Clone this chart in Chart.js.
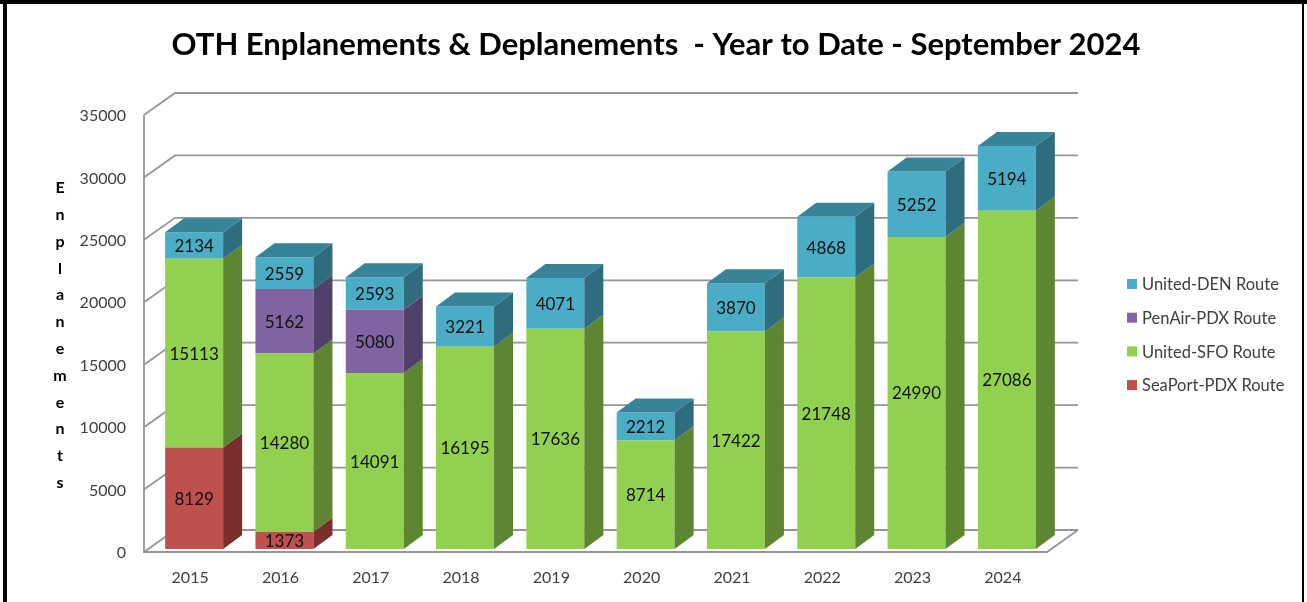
<!DOCTYPE html>
<html>
<head>
<meta charset="utf-8">
<title>OTH Enplanements &amp; Deplanements</title>
<script src="https://cdn.jsdelivr.net/npm/chart.js@4.4.1/dist/chart.umd.min.js"></script>
<style>
  html, body { margin: 0; padding: 0; background: #fff; }
  #wrap { width: 1307px; height: 602px; }
</style>
</head>
<body>
<div id="wrap"><canvas id="othChart" width="1307" height="602"></canvas></div>
<script>
// Chart data
const years = ['2015', '2016', '2017', '2018', '2019', '2020', '2021', '2022', '2023', '2024'];
const seaportPdx = [8129, 1373, null, null, null, null, null, null, null, null];
const unitedSfo = [15113, 14280, 14091, 16195, 17636, 8714, 17422, 21748, 24990, 27086];
const penairPdx = [null, 5162, 5080, null, null, null, null, null, null, null];
const unitedDen = [2134, 2559, 2593, 3221, 4071, 2212, 3870, 4868, 5252, 5194];
const yMax = 35000;
const yStep = 5000;

const chartTitle = 'OTH Enplanements & Deplanements  - Year to Date - September 2024';
const yAxisTitle = 'Enplanements';

// front / side / top colours per route
const routes = [
    { label: 'SeaPort-PDX Route', data: seaportPdx, front: '#C0504D', side: '#7A2F2E', top: '#96403D' },
    { label: 'United-SFO Route', data: unitedSfo, front: '#92D050', side: '#5E8532', top: '#74A63F' },
    { label: 'PenAir-PDX Route', data: penairPdx, front: '#8064A2', side: '#51406A', top: '#654F82' },
    { label: 'United-DEN Route', data: unitedDen, front: '#4BACC6', side: '#2F6D7E', top: '#37849A' }
];

const FONT = 'Lato';
const TEXT_GREY = '#404040';

// 3D look: bar depth, wall depth and where the front plane sits
const BAR_DX = 19, BAR_DY = -14;
const WALL_DX = 31, WALL_DY = -22;
const FRONT_DX = -5, FRONT_DY = 3;

const threeD = {
    id: 'threeD',
    beforeDraw(chart) {
        const ctx = chart.ctx;
        ctx.save();
        ctx.fillStyle = '#ffffff';
        ctx.fillRect(0, 0, chart.width, chart.height);
        ctx.restore();
    },
    beforeDatasetsDraw(chart) {
        const { ctx, chartArea: a, scales: { y } } = chart;
        const fx = a.left + FRONT_DX;
        const rx = a.right + FRONT_DX;
        ctx.save();
        ctx.strokeStyle = '#969696';
        ctx.lineWidth = 1.8;
        y.ticks.forEach(t => {
            const fy = y.getPixelForValue(t.value) + FRONT_DY;
            ctx.beginPath();
            ctx.moveTo(fx, fy);
            ctx.lineTo(fx + WALL_DX, fy + WALL_DY);
            ctx.lineTo(rx + WALL_DX, fy + WALL_DY);
            ctx.stroke();
        });
        const topY = y.getPixelForValue(y.max) + FRONT_DY;
        const botY = y.getPixelForValue(0) + FRONT_DY;
        ctx.beginPath();
        ctx.moveTo(fx, topY);
        ctx.lineTo(fx, botY);
        ctx.lineTo(rx, botY);
        ctx.lineTo(rx + WALL_DX, botY + WALL_DY);
        ctx.stroke();
        ctx.restore();
    },
    afterDatasetsDraw(chart) {
        const ctx = chart.ctx;
        const count = years.length;
        ctx.save();
        for (let i = 0; i < count; i++) {
            // find the top segment of this stack
            let topDs = -1;
            routes.forEach((r, d) => { if (r.data[i] != null) topDs = d; });

            routes.forEach((r, d) => {
                if (r.data[i] == null) return;
                const el = chart.getDatasetMeta(d).data[i];
                const p = el.getProps(['x', 'y', 'base', 'width'], true);
                const left = p.x - p.width / 2;
                const right = p.x + p.width / 2;

                ctx.fillStyle = r.side;
                ctx.beginPath();
                ctx.moveTo(right, p.y);
                ctx.lineTo(right + BAR_DX, p.y + BAR_DY);
                ctx.lineTo(right + BAR_DX, p.base + BAR_DY);
                ctx.lineTo(right, p.base);
                ctx.closePath();
                ctx.fill();

                if (d === topDs) {
                    ctx.fillStyle = r.top;
                    ctx.beginPath();
                    ctx.moveTo(left, p.y);
                    ctx.lineTo(left + BAR_DX, p.y + BAR_DY);
                    ctx.lineTo(right + BAR_DX, p.y + BAR_DY);
                    ctx.lineTo(right, p.y);
                    ctx.closePath();
                    ctx.fill();
                }

                ctx.fillStyle = '#111111';
                ctx.font = '17px ' + FONT;
                ctx.textAlign = 'center';
                ctx.textBaseline = 'middle';
                ctx.fillText(String(r.data[i]), p.x, (p.y + p.base) / 2 + 1);
            });
        }
        ctx.restore();
    },
    afterDraw(chart) {
        const ctx = chart.ctx;
        ctx.save();

        // title
        ctx.fillStyle = '#000000';
        ctx.font = 'bold 31px ' + FONT;
        ctx.textAlign = 'center';
        ctx.textBaseline = 'middle';
        ctx.fillText(chartTitle, 656, 45);

        // stacked vertical axis title
        ctx.font = 'bold 16px ' + FONT;
        yAxisTitle.split('').forEach((ch, k) => {
            ctx.fillText(ch, 60, 188 + k * 26.8);
        });

        // legend, top entry first
        ctx.font = '16.5px ' + FONT;
        ctx.textAlign = 'left';
        routes.slice().reverse().forEach((r, k) => {
            const ly = 284 + k * 33.7;
            ctx.fillStyle = r.front;
            ctx.fillRect(1127, ly - 5, 10, 10);
            ctx.fillStyle = TEXT_GREY;
            ctx.fillText(r.label, 1142, ly + 1);
        });

        // frame
        ctx.fillStyle = '#000000';
        ctx.fillRect(0, 0, chart.width, 4);
        ctx.fillRect(3, 0, 4, chart.height);
        ctx.fillRect(1302, 0, 2, chart.height);
        ctx.restore();
    }
};

Chart.defaults.font.family = FONT;

new Chart(document.getElementById('othChart'), {
    type: 'bar',
    data: {
        labels: years,
        datasets: routes.map(r => ({
            label: r.label,
            data: r.data,
            backgroundColor: r.front,
            borderWidth: 0,
            barPercentage: 0.642,
            categoryPercentage: 1.0
        }))
    },
    options: {
        responsive: false,
        animation: false,
        devicePixelRatio: 1,
        layout: { padding: { top: 112, right: 255, left: 0, bottom: 0 } },
        plugins: {
            legend: { display: false },
            title: { display: false },
            tooltip: { enabled: false }
        },
        scales: {
            x: {
                stacked: true,
                grid: { display: false },
                border: { display: false },
                ticks: { font: { size: 16 }, color: TEXT_GREY, padding: 11, labelOffset: -4 },
                afterFit(scale) { scale.height = 53; }
            },
            y: {
                stacked: true,
                min: 0,
                max: yMax,
                grid: { display: false },
                border: { display: false },
                ticks: {
                    stepSize: yStep,
                    font: { size: 16 },
                    color: TEXT_GREY,
                    padding: 15,
                    labelOffset: 4,
                    callback: value => String(value)
                },
                afterFit(scale) { scale.width = 149; }
            }
        }
    },
    plugins: [threeD]
});
</script>
</body>
</html>
